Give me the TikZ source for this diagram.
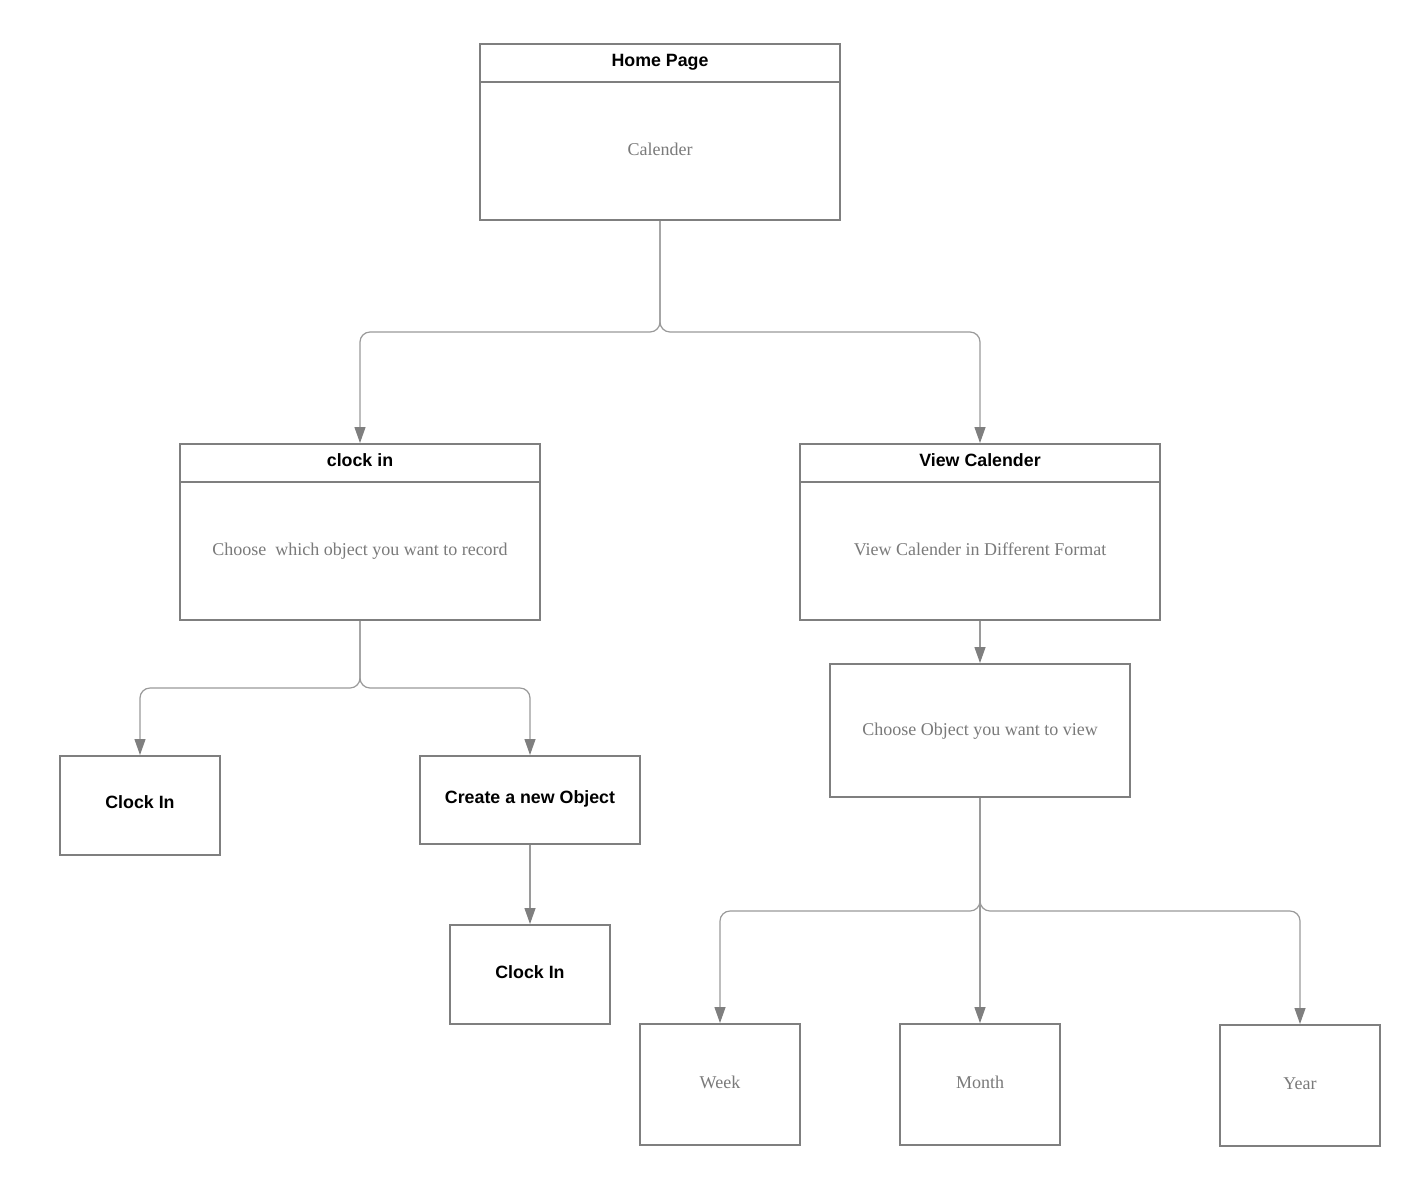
\documentclass[tikz,border=0pt]{standalone}
\usepackage{fontspec}
\setmainfont{Liberation Serif}
\newfontfamily\titlefont{Liberation Sans}
\usetikzlibrary{arrows.meta}
\definecolor{boxgray}{HTML}{7F7F7F}
\definecolor{linegray}{HTML}{9A9A9A}
\definecolor{txtgray}{HTML}{7A7A7A}
\begin{document}
\begin{tikzpicture}[x=1pt,y=-1pt,
  box/.style={draw=boxgray, line width=2pt, inner sep=0pt, fill=white},
  ttl/.style={font=\titlefont\fontsize{17.8}{20}\selectfont\bfseries, text=black, inner sep=0pt, anchor=base},
  bdy/.style={font=\fontsize{18}{20}\selectfont, text=txtgray, inner sep=0pt, anchor=base},
  divider/.style={draw=boxgray, line width=2pt},
  conn/.style={draw=linegray, line width=1.2pt, rounded corners=10pt,
    -{Triangle[width=11pt,length=16pt,color=boxgray,fill=boxgray]}}]
\useasboundingbox (0,0) rectangle (1423,1184);
\fill[white] (0,0) rectangle (1423,1184);

% Home page
\node[box, minimum width=360pt, minimum height=176pt] (home) at (660,132) {};
\draw[divider] (480,82) -- (840,82);
\node[ttl] (homeT) at (660,66) {Home Page};
\node[bdy] (homeB) at (660,155.5) {Calender};

% clock in
\node[box, minimum width=360pt, minimum height=176pt] (clk) at (360,532) {};
\draw[divider] (180,482) -- (540,482);
\node[ttl] (clkT) at (360,466) {clock in};
\node[bdy] (clkB) at (360,555) {Choose\ \ which object you want to record};

% View Calender
\node[box, minimum width=360pt, minimum height=176pt] (view) at (980,532) {};
\draw[divider] (800,482) -- (1160,482);
\node[ttl] (viewT) at (980,466) {View Calender};
\node[bdy] (viewB) at (980,555) {View Calender in Different Format};

% second level
\node[box, minimum width=160pt, minimum height=99pt] (ci1) at (140,805.5) {};
\node[ttl] (ci1T) at (140,808.5) {Clock In};
\node[box, minimum width=220pt, minimum height=88pt] (create) at (530,800) {};
\node[ttl] (createT) at (530,803.5) {Create a new Object};
\node[box, minimum width=160pt, minimum height=99pt] (ci2) at (530,974.5) {};
\node[ttl] (ci2T) at (530,978) {Clock In};
\node[box, minimum width=300pt, minimum height=133pt] (choose) at (980,730.5) {};
\node[bdy] (chooseT) at (980,735.5) {Choose Object you want to view};

\node[box, minimum width=160pt, minimum height=121pt] (week) at (720,1084.5) {};
\node[bdy] (weekT) at (720,1088) {Week};
\node[box, minimum width=160pt, minimum height=121pt] (month) at (980,1084.5) {};
\node[bdy] (monthT) at (980,1088) {Month};
\node[box, minimum width=160pt, minimum height=121pt] (year) at (1300,1085.5) {};
\node[bdy] (yearT) at (1300,1089) {Year};

% junctions
\coordinate (j1) at (660,332);
\coordinate (j2) at (360,688);
\coordinate (j3) at (980,911);

\draw[conn] (home.south) -- (j1) -| (clk.north);
\draw[conn] (home.south) -- (j1) -| (view.north);
\draw[conn] (clk.south) -- (j2) -| (ci1.north);
\draw[conn] (clk.south) -- (j2) -| (create.north);
\draw[conn] (create.south) -- (ci2.north);
\draw[conn] (view.south) -- (choose.north);
\draw[conn] (choose.south) -- (j3) -| (week.north);
\draw[conn] (choose.south) -- (month.north);
\draw[conn] (choose.south) -- (j3) -| (year.north);
\end{tikzpicture}
\end{document}
